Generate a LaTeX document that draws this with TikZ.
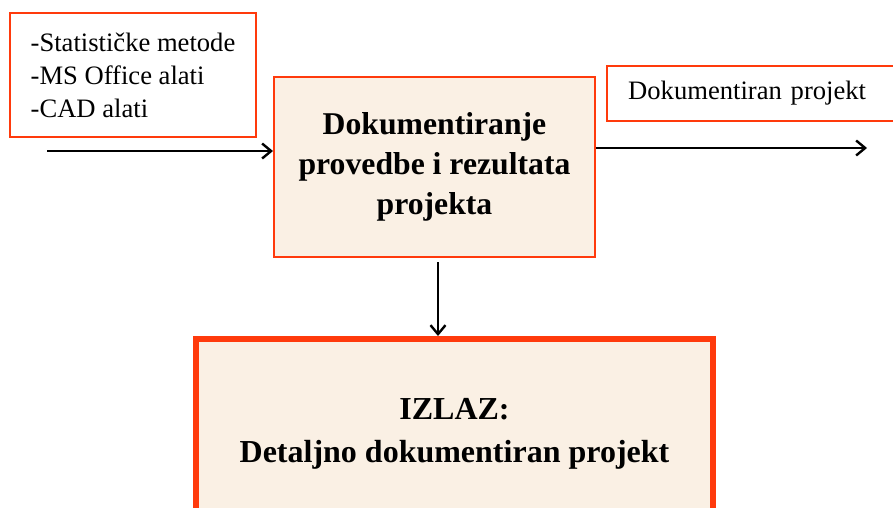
\documentclass[tikz,border=0pt]{standalone}
\usepackage{fontspec}
\setmainfont{Liberation Serif}
\usetikzlibrary{arrows.meta}
\definecolor{boxred}{RGB}{255,58,12}
\definecolor{boxfill}{RGB}{250,240,228}
\tikzset{
  conn/.style={line width=2.4pt,-{Straight Barb[length=9pt,width=15pt]}},
  tool/.style={draw=boxred,line width=2.4pt,fill=white,inner sep=0pt},
  proc/.style={draw=boxred,line width=2pt,fill=boxfill,inner sep=0pt,align=center,
    font=\bfseries\fontsize{31.7}{40}\selectfont},
  result/.style={draw=boxred,line width=6pt,fill=boxfill,inner sep=0pt,align=center,
    font=\bfseries\fontsize{32}{43}\selectfont},
}
\begin{document}
\begin{tikzpicture}[x=1pt,y=-1pt]
\clip (0,0) rectangle (893,507);
\fill[white] (0,0) rectangle (893,507);
% input tools box
\node[tool,minimum width=246pt,minimum height=124pt,align=left,
  font=\fontsize{26.6}{33}\selectfont] (tools) at (133,75)
  {-Statističke metode\\-MS Office alati\\-CAD alati};
% process box
\node[proc,minimum width=321pt,minimum height=180pt] (mid) at (434.5,167)
  {Dokumentiranje\\provedbe i rezultata\\projekta};
% output label box
\node[tool,anchor=west,minimum height=55pt,text width=300pt,inner xsep=21pt,
  align=left,font=\fontsize{26.6}{33}\selectfont] (outlbl) at (606,93.5)
  {Dokumentiran projekt};
% result box
\node[result,minimum width=517pt,minimum height=190pt] (res) at (454.5,434)
  {IZLAZ:\\Detaljno dokumentiran projekt};
% connectors
\coordinate (lf) at (47,151);
\coordinate (rt) at (867,148);
\coordinate (dn) at (438,0);
\draw[conn] (lf) -- (lf -| mid.west);
\draw[conn] (mid.east |- rt) -- (rt);
\draw[conn,shorten <=4pt] (mid.south -| dn) -- (res.north -| dn);
\end{tikzpicture}
\end{document}
